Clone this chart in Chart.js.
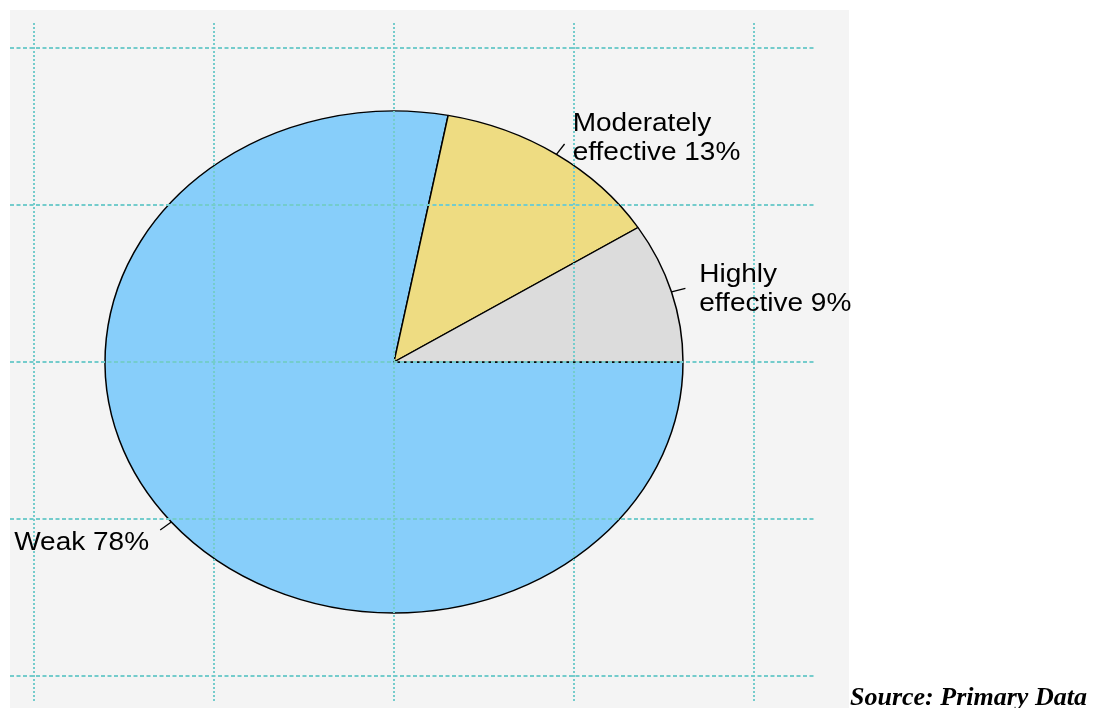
<!DOCTYPE html>
<html>
<head>
<meta charset="utf-8">
<script src="https://cdn.jsdelivr.net/npm/chart.js@4/dist/chart.umd.min.js"></script>
<style>
  body { margin: 0; background: #fff; }
  #wrap { position: relative; width: 1095px; height: 708px; overflow: hidden; }
  #fuente {
    position: absolute; left: 850px; top: 682px;
    font-family: "Liberation Serif", "Times New Roman", serif;
    font-weight: bold; font-style: italic; font-size: 26px; line-height: 30px;
    color: #000; white-space: nowrap;
  }
</style>
</head>
<body>
<div id="wrap">
  <canvas id="grafico" width="1095" height="708"></canvas>
  <div id="fuente">Source: Primary Data</div>
</div>
<script>
// Datos del grafico (orden horario desde las 3 en punto)
const categorias = ['Weak', 'Moderately\neffective', 'Highly\neffective'];
const porcentajes = [78, 13, 9];
const colores = ['#87cefa', '#eedc82', '#dcdcdc'];

// Geometria del panel (estilo R)
const centroX = 394, centroY = 362;
const radioX = 289, radioY = 251;
const escalaY = radioY / radioX;

// Fondo gris del panel
const fondoPanel = {
    id: 'fondoPanel',
    beforeDraw(chart) {
        const ctx = chart.ctx;
        ctx.save();
        ctx.fillStyle = '#f4f4f4';
        ctx.fillRect(10, 10, 839, 698);
        ctx.restore();
    }
};

// Aplastar el circulo para que quede como elipse
const elipse = {
    id: 'elipse',
    beforeDatasetsDraw(chart) {
        const ctx = chart.ctx;
        ctx.save();
        ctx.translate(centroX, centroY);
        ctx.scale(1, escalaY);
        ctx.translate(-centroX, -centroY);
    },
    afterDatasetsDraw(chart) {
        chart.ctx.restore();
    }
};

// Rejilla punteada por encima de la torta
const rejilla = {
    id: 'rejilla',
    afterDatasetsDraw(chart) {
        const ctx = chart.ctx;
        ctx.save();
        ctx.strokeStyle = '#74cccc';
        ctx.lineWidth = 2;
        ctx.setLineDash([2, 2]);
        for (let k = -2; k <= 2; k++) {
            const x = Math.round(centroX + k * 180);
            ctx.beginPath();
            ctx.moveTo(x, 23);
            ctx.lineTo(x, 702);
            ctx.stroke();
        }
        ctx.setLineDash([4, 2.5]);
        for (let k = -2; k <= 2; k++) {
            const y = Math.round(centroY + k * 156.8);
            ctx.beginPath();
            ctx.moveTo(10, y);
            ctx.lineTo(815, y);
            ctx.stroke();
        }
        ctx.restore();
    }
};

// Etiquetas con su rayita, como pie() de R
const etiquetas = {
    id: 'etiquetas',
    afterDraw(chart) {
        const ctx = chart.ctx;
        const arcos = chart.getDatasetMeta(0).data;
        const estirar = 1.12;
        ctx.save();
        ctx.font = '25px "Liberation Sans", Arial, sans-serif';
        ctx.fillStyle = '#000';
        ctx.strokeStyle = '#000';
        ctx.lineWidth = 1.3;
        arcos.forEach((arco, i) => {
            const medio = (arco.startAngle + arco.endAngle) / 2;
            const cx = Math.cos(medio), sy = Math.sin(medio);
            // rayita de 1.0 a 1.05 del radio
            ctx.beginPath();
            ctx.moveTo(centroX + radioX * cx, centroY + radioY * sy);
            ctx.lineTo(centroX + radioX * 1.05 * cx, centroY + radioY * 1.05 * sy);
            ctx.stroke();

            const ax = centroX + radioX * 1.1 * cx;
            const ay = centroY + radioY * 1.1 * sy;
            const lineas = (categorias[i] + ' ' + porcentajes[i] + '%').split('\n');
            const alto = 29;
            lineas.forEach((linea, j) => {
                const medioY = ay - (lineas.length - 1) * alto / 2 + j * alto + 3;
                const ancho = ctx.measureText(linea).width * estirar;
                const x0 = cx >= 0 ? ax : ax - ancho;
                ctx.save();
                ctx.translate(x0, medioY + 9);
                ctx.scale(estirar, 1);
                ctx.textBaseline = 'alphabetic';
                ctx.textAlign = 'left';
                ctx.fillText(linea, 0, 0);
                ctx.restore();
            });
        });
        ctx.restore();
    }
};

new Chart(document.getElementById('grafico'), {
    type: 'pie',
    data: {
        labels: categorias,
        datasets: [{
            data: porcentajes,
            backgroundColor: colores,
            borderColor: '#000',
            borderWidth: 1.5,
            radius: radioX
        }]
    },
    options: {
        responsive: false,
        animation: false,
        rotation: 90,
        layout: {
            padding: { left: 0, right: 307, top: 16, bottom: 0 }
        },
        plugins: {
            legend: { display: false },
            tooltip: { enabled: false }
        },
        events: []
    },
    plugins: [fondoPanel, elipse, rejilla, etiquetas]
});
</script>
</body>
</html>
